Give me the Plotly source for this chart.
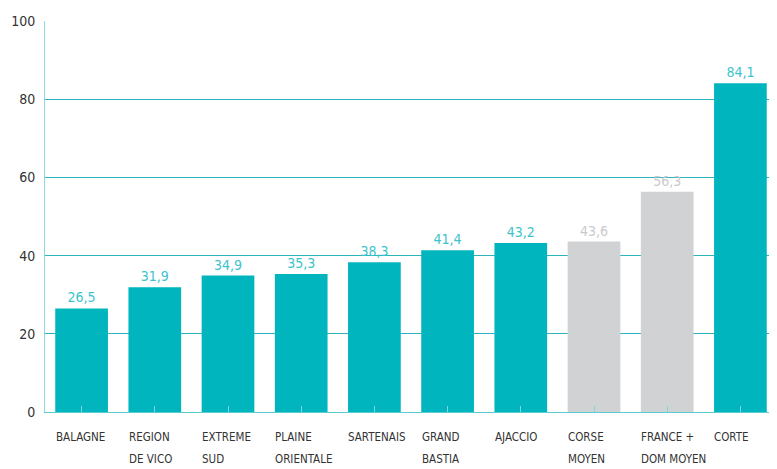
import plotly.graph_objects as go

categories = ["BALAGNE", "REGION<br>DE VICO", "EXTREME<br>SUD", "PLAINE<br>ORIENTALE", "SARTENAIS",
              "GRAND<br>BASTIA", "AJACCIO", "CORSE<br>MOYEN", "FRANCE +<br>DOM MOYEN", "CORTE"]
values = [26.5, 31.9, 34.9, 35.3, 38.3, 41.4, 43.2, 43.6, 56.3, 84.1]
is_reference = [False, False, False, False, False, False, False, True, True, False]
y_ticks = [0, 20, 40, 60, 80, 100]

TEAL = "#00b5be"
TEAL_TXT = "#3cc4cc"
GRAY = "#d1d2d4"
GRAY_TXT = "#c9cacc"
FONT = "DejaVu Sans Condensed, Liberation Sans Narrow, sans-serif"

x_idx = list(range(len(categories)))
bar_colors = [GRAY if r else TEAL for r in is_reference]
txt_colors = [GRAY_TXT if r else TEAL_TXT for r in is_reference]
labels = [f"{v:.1f}".replace(".", ",") for v in values]

fig = go.Figure(go.Bar(
    x=x_idx, y=values, width=0.72,
    marker=dict(color=bar_colors, line=dict(width=0)),
    text=labels, textposition="outside", cliponaxis=False,
    textfont=dict(family=FONT, size=14, color=txt_colors),
))

annotations = []
for i, cat in enumerate(categories):
    for j, line in enumerate(cat.split("<br>")):
        annotations.append(dict(
            x=i, xref="x", y=0, yref="paper", text=line, showarrow=False,
            xanchor="left", yanchor="top", xshift=-28, yshift=-16 - 22 * j,
            font=dict(family=FONT, size=11.5, color="#333333"),
        ))

# the page body has an 8px margin, so the figure is sized to fill the rest of the window
fig.update_layout(
    width=769, height=461,
    margin=dict(l=37, r=0, t=13, b=57),
    paper_bgcolor="white", plot_bgcolor="white",
    showlegend=False,
    annotations=annotations,
    xaxis=dict(range=[-0.5, len(categories) - 0.5], showticklabels=False,
               showgrid=False, zeroline=False, automargin=False,
               showline=True, linecolor="#5ccbd2", linewidth=1,
               tickvals=x_idx, tickson="boundaries", ticks="inside",
               ticklen=6, tickcolor="#7fd6db", tickwidth=1),
    yaxis=dict(range=[0, 100], tickvals=y_ticks, showgrid=True,
               gridcolor="#2cb4be", gridwidth=1, zeroline=False,
               showline=True, linecolor="#8fdade", linewidth=1,
               ticks="", ticklabelstandoff=6, automargin=False,
               tickfont=dict(family=FONT, size=14, color="#333333")),
)

fig.write_html("out.html")
